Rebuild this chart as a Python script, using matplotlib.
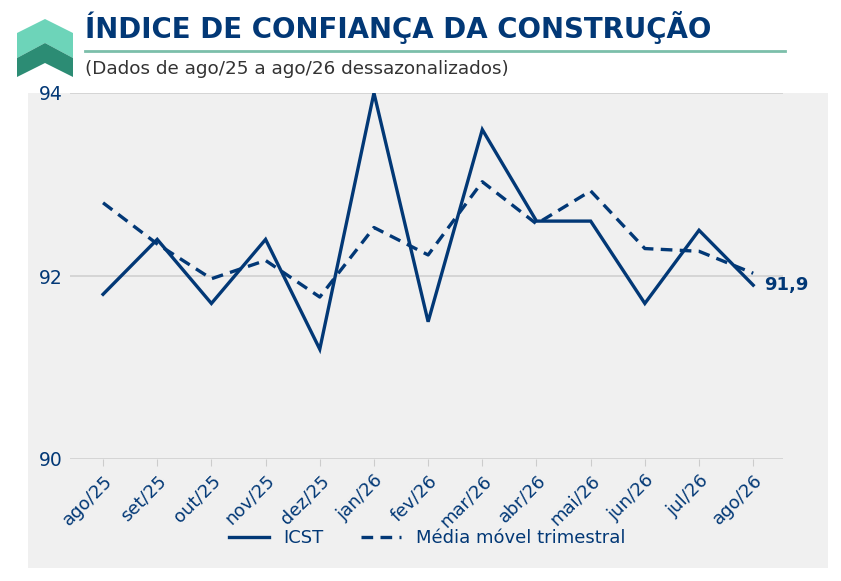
import matplotlib
matplotlib.use("Agg")
import matplotlib.pyplot as plt
from matplotlib.patches import Polygon, Rectangle
from matplotlib.lines import Line2D

plt.rcParams["font.family"] = ["DejaVu Sans"]

months = ["ago/25", "set/25", "out/25", "nov/25", "dez/25", "jan/26", "fev/26",
          "mar/26", "abr/26", "mai/26", "jun/26", "jul/26", "ago/26"]
icst = [91.8, 92.4, 91.7, 92.4, 91.2, 94.0, 91.5, 93.6, 92.6, 92.6, 91.7, 92.5, 91.9]
media_movel = [92.8, 92.35, 91.97, 92.17, 91.77, 92.53, 92.23, 93.03, 92.57, 92.93, 92.3, 92.27, 92.03]
yticks = [90, 92, 94]
last_label = "91,9"

BLUE = "#023876"
BG = "#f0f0f0"
W, H = 841, 581

fig = plt.figure(figsize=(W / 100, H / 100), dpi=100)
fig.patch.set_facecolor("white")

def fx(px):
    return px / W

def fy(py):
    return 1 - py / H

# gray background panel
fig.patches.append(Rectangle((fx(28), fy(568)), fx(828) - fx(28), fy(93) - fy(568),
                             transform=fig.transFigure, facecolor=BG, edgecolor="none", zorder=-10))

# logo
light = [(17, 33), (45, 19), (73, 33), (73, 58), (45, 43), (17, 58)]
dark = [(17, 58), (45, 43), (73, 58), (73, 77), (45, 63), (17, 77)]
fig.patches.append(Polygon([(fx(a), fy(b)) for a, b in light], closed=True,
                           transform=fig.transFigure, facecolor="#6dd4b9", edgecolor="none"))
fig.patches.append(Polygon([(fx(a), fy(b)) for a, b in dark], closed=True,
                           transform=fig.transFigure, facecolor="#2c8c74", edgecolor="none"))

# title, rule, subtitle
fig.text(fx(85), fy(38), "ÍNDICE DE CONFIANÇA DA CONSTRUÇÃO", fontsize=19.9,
         fontweight="bold", color=BLUE, ha="left", va="baseline")
fig.add_artist(Line2D([fx(85), fx(785)], [fy(51), fy(51)], transform=fig.transFigure,
                      color="#7cbfaa", linewidth=2))
fig.text(fx(85), fy(74), "(Dados de ago/25 a ago/26 dessazonalizados)", fontsize=13.2,
         color="#333333", ha="left", va="baseline")

ax = fig.add_axes([fx(70), fy(459), fx(783) - fx(70), fy(93) - fy(459)])
ax.set_zorder(1)
ax.set_facecolor(BG)
x = list(range(len(months)))
ax.plot(x, icst, color=BLUE, linewidth=2.4, label="ICST", solid_joinstyle="miter", zorder=3)
ax.plot(x, media_movel, color=BLUE, linewidth=2.4, linestyle=(0, (3.5, 2.2)),
        label="Média móvel trimestral", zorder=3)

ax.set_xlim(-0.61, 12.55)
ax.set_ylim(90, 94)
ax.set_yticks(yticks)
ax.set_yticklabels([str(v) for v in yticks])
ax.set_xticks(x)
ax.set_xticklabels(months, rotation=45, ha="right", rotation_mode="anchor")
for s in ax.spines.values():
    s.set_visible(False)
ax.grid(axis="y", color="#d0d0d0", linewidth=1.2)
ax.set_axisbelow(True)
ax.tick_params(axis="y", length=0, labelsize=13.5, labelcolor=BLUE, pad=5.5)
ax.tick_params(axis="x", length=5, color="#cccccc", labelsize=13, labelcolor=BLUE, pad=4)

ax.annotate(last_label, xy=(x[-1], icst[-1]), xytext=(8, 0), textcoords="offset points",
            fontsize=13, fontweight="bold", color=BLUE, va="center", ha="left")

leg = fig.legend(loc="center", bbox_to_anchor=(fx(427), fy(538)), ncol=2, frameon=False,
                 fontsize=13, handlelength=2.2, columnspacing=2.1)
for t in leg.get_texts():
    t.set_color(BLUE)

fig.savefig("out.png", dpi=100)
